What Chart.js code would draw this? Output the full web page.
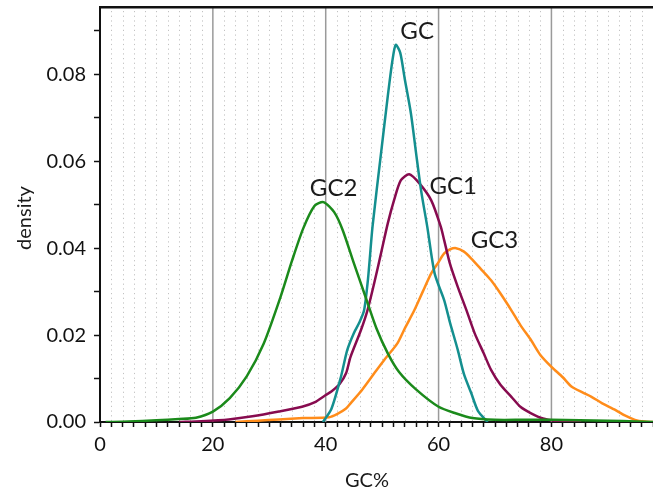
<!DOCTYPE html>
<html>
<head>
<meta charset="utf-8">
<script src="https://cdn.jsdelivr.net/npm/chart.js@4"></script>
<style>
  body { margin: 0; background: #fff; }
  #wrap { width: 653px; height: 493px; position: relative; }
</style>
</head>
<body>
<div id="wrap"><canvas id="gcChart"></canvas></div>
<script>
// GC2 (green)
const gc2X = [1, 5, 10, 14, 17, 20, 23, 26, 29, 32, 34, 36, 38, 39.6, 41.5, 43, 45, 47, 49, 51, 53, 56, 60, 63, 66, 70, 75, 80, 85, 90, 95, 98];
const gc2Y = [0, 0.0001, 0.0004, 0.0007, 0.001, 0.0024, 0.0055, 0.0105, 0.018, 0.0288, 0.037, 0.0445, 0.0497, 0.0506, 0.0483, 0.0442, 0.0365, 0.029, 0.0215, 0.0158, 0.0115, 0.0075, 0.0035, 0.002, 0.0009, 0.0005, 0.0005, 0.0005, 0.0004, 0.0003, 0.0001, 0];
// GC (teal)
const gcX = [39.5, 41, 42.7, 43.8, 45, 46, 46.8, 47.5, 48.3, 49.8, 51, 51.8, 52.4, 53.2, 54, 55.1, 56, 56.9, 58, 59.3, 61, 62, 63.4, 64.5, 65.8, 67, 68.7];
const gcY = [0, 0.003, 0.0104, 0.0165, 0.0205, 0.023, 0.0257, 0.033, 0.045, 0.0618, 0.075, 0.083, 0.0868, 0.085, 0.079, 0.071, 0.062, 0.0533, 0.0449, 0.0342, 0.028, 0.023, 0.0166, 0.011, 0.0066, 0.0025, 0];
// GC1 (purple)
const gc1X = [14, 18, 22.8, 27, 31.7, 35.8, 38, 40, 41, 42.5, 43.6, 44.4, 46.2, 47.4, 48.6, 49.8, 51, 52.1, 53.3, 54.8, 56.6, 58.7, 60.4, 61, 62, 63.4, 65, 66.4, 68, 69.3, 71, 72.9, 74.5, 76.4, 78.5, 80.6, 83, 85.3];
const gc1Y = [0, 0.0002, 0.0006, 0.0013, 0.0024, 0.0035, 0.0045, 0.0062, 0.007, 0.0088, 0.0112, 0.015, 0.021, 0.0257, 0.032, 0.0388, 0.0457, 0.051, 0.0556, 0.057, 0.0549, 0.051, 0.0449, 0.0418, 0.0365, 0.0311, 0.0255, 0.0204, 0.0158, 0.012, 0.0085, 0.0058, 0.0035, 0.002, 0.0008, 0.0003, 0.0001, 0];
// GC3 (orange)
const gc3X = [24, 28, 31.7, 36, 40.6, 42, 43.6, 44.4, 46.5, 48.6, 50.5, 52.7, 54, 55.7, 57.2, 58.7, 60, 61, 62, 63.1, 64.5, 65.8, 67.5, 69.3, 71, 72.9, 74.5, 76.4, 78, 80, 82, 83.6, 85.5, 87.1, 89, 91.3, 93, 94.8, 96.5, 98];
const gc3Y = [0, 0.0003, 0.0006, 0.0009, 0.0011, 0.0018, 0.0031, 0.0043, 0.0075, 0.0112, 0.0145, 0.0181, 0.0215, 0.0257, 0.03, 0.0342, 0.0368, 0.0388, 0.0397, 0.04, 0.0392, 0.0376, 0.0352, 0.0326, 0.0295, 0.0257, 0.0223, 0.0188, 0.0155, 0.0127, 0.0103, 0.0081, 0.0068, 0.0058, 0.0043, 0.0028, 0.0015, 0.0005, 0.0001, 0];

// curve labels, placed in data coordinates
const curveNames = ['GC', 'GC2', 'GC1', 'GC3'];
const curveLabelX = [56.2, 41.4, 62.6, 69.9];
const curveLabelY = [0.0899, 0.0538, 0.0542, 0.0418];

const xMajor = [20, 40, 60, 80];

const FONT = 'Lato, "Open Sans", sans-serif';

function pts(xs, ys) {
  return xs.map((x, i) => ({ x: x, y: ys[i] }));
}

const decorations = {
  id: 'decorations',
  beforeDatasetsDraw(chart) {
    const { ctx, chartArea: a, scales: { x } } = chart;
    ctx.save();
    // dotted minor verticals
    ctx.strokeStyle = '#c2c2c2';
    ctx.lineWidth = 1;
    ctx.setLineDash([1.2, 3.5]);
    x.ticks.forEach(t => {
      if (t.value === 0 || t.value % 20 === 0) return;
      const px = Math.round(x.getPixelForValue(t.value)) + 0.5;
      ctx.beginPath();
      ctx.moveTo(px, a.top + 4);
      ctx.lineTo(px, a.bottom);
      ctx.stroke();
    });
    ctx.setLineDash([]);
    // solid major verticals
    ctx.strokeStyle = '#9a9a9a';
    ctx.lineWidth = 1.5;
    xMajor.forEach(v => {
      const px = x.getPixelForValue(v);
      ctx.beginPath();
      ctx.moveTo(px, a.top);
      ctx.lineTo(px, a.bottom);
      ctx.stroke();
    });
    ctx.restore();
  },
  afterDraw(chart) {
    const { ctx, chartArea: a, scales: { x, y } } = chart;
    ctx.save();
    // top frame
    ctx.fillStyle = '#111';
    ctx.fillRect(a.left - 1, Math.round(a.top) - 1, a.right - a.left + 1, 2.5);

    ctx.fillStyle = '#1a1a1a';
    ctx.textAlign = 'center';
    ctx.textBaseline = 'middle';
    ctx.font = '24px ' + FONT;
    curveNames.forEach((n, i) => {
      ctx.fillText(n, x.getPixelForValue(curveLabelX[i]), y.getPixelForValue(curveLabelY[i]));
    });

    ctx.font = '20px ' + FONT;
    ctx.fillText('GC%', 367, 481);
    ctx.translate(25, 218);
    ctx.rotate(-Math.PI / 2);
    ctx.fillText('density', 0, 0);
    ctx.restore();
  }
};

const lineStyle = (color) => ({
  borderColor: color,
  backgroundColor: color,
  borderWidth: 2.5,
  pointRadius: 0,
  tension: 0.25,
  fill: false
});

new Chart(document.getElementById('gcChart'), {
  type: 'line',
  data: {
    datasets: [
      Object.assign({ label: 'GC2', data: pts(gc2X, gc2Y) }, lineStyle('#1b8a1b')),
      Object.assign({ label: 'GC', data: pts(gcX, gcY) }, lineStyle('#148f8f')),
      Object.assign({ label: 'GC1', data: pts(gc1X, gc1Y) }, lineStyle('#870b4f')),
      Object.assign({ label: 'GC3', data: pts(gc3X, gc3Y) }, lineStyle('#ff8c1a'))
    ]
  },
  options: {
    responsive: true,
    maintainAspectRatio: false,
    animation: false,
    layout: { padding: { top: 7, left: 0, right: 0, bottom: 0 } },
    plugins: {
      legend: { display: false },
      tooltip: { enabled: false }
    },
    scales: {
      x: {
        type: 'linear',
        min: 0,
        max: 98,
        afterFit: (s) => { s.height = 71; s.paddingLeft = 0; s.paddingRight = 0; },
        ticks: {
          stepSize: 2,
          autoSkip: false,
          maxRotation: 0,
          includeBounds: false,
          padding: 6,
          color: '#111',
          font: { family: FONT, size: 20 },
          callback: (v) => (v % 20 === 0 ? String(v) : '')
        },
        grid: {
          drawOnChartArea: false,
          drawTicks: true,
          tickLength: 5,
          tickWidth: 1.5,
          tickColor: '#111'
        },
        border: { color: '#111', width: 2 }
      },
      y: {
        min: 0,
        max: 0.0955,
        afterFit: (s) => { s.width = 100; s.paddingTop = 0; s.paddingBottom = 0; },
        ticks: {
          stepSize: 0.01,
          autoSkip: false,
          includeBounds: false,
          padding: 8,
          color: '#111',
          font: { family: FONT, size: 20 },
          callback: (v) => (Math.round(v * 100) % 2 === 0 ? v.toFixed(2) : '')
        },
        grid: {
          drawOnChartArea: false,
          drawTicks: true,
          tickLength: 6,
          tickWidth: 1.5,
          tickColor: '#111'
        },
        border: { color: '#111', width: 2 }
      }
    }
  },
  plugins: [decorations]
});
</script>
</body>
</html>
